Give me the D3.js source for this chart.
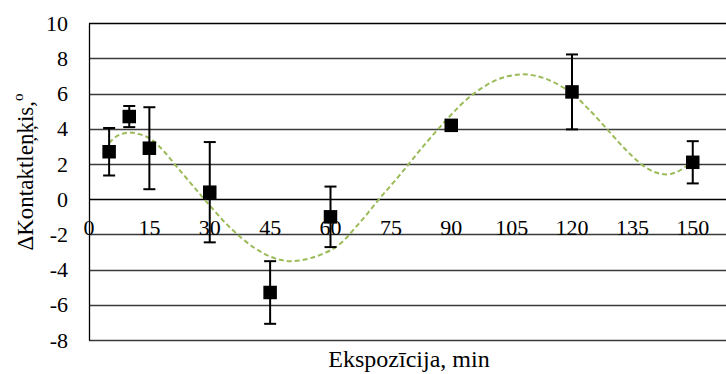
<!DOCTYPE html>
<html>
<head>
<meta charset="utf-8">
<script src="https://cdn.jsdelivr.net/npm/d3@7/dist/d3.min.js"></script>
<style>
  html, body { margin: 0; padding: 0; background: #fff; }
  svg { display: block; }
</style>
</head>
<body>
<svg id="chart" width="726" height="374"></svg>
<script>
// Exposure times (min), mean change of contact angle and its spread
const exposure = [5, 10, 15, 30, 45, 60, 90, 120, 150];
const deltaAngle = [2.7, 4.7, 2.9, 0.4, -5.3, -1.0, 4.2, 6.1, 2.1];
const errorHalf = [1.35, 0.6, 2.33, 2.85, 1.78, 1.72, 0.15, 2.13, 1.2];

// Smooth trend curve through the series (x, y pairs)
const trendX = [5, 7, 9.75, 12.5, 15.5, 18.5, 21.8, 25.5, 29.6, 35, 40.8, 45.5, 49.9, 55, 61.5, 67, 72.2, 77.2, 83, 89.2, 93, 97, 102, 107.8, 113.5, 119.8, 124, 128.5, 133, 137.5, 140.5, 143.7, 146.5, 149.1, 150];
const trendY = [3.2, 3.6, 3.79, 3.7, 3.4, 2.75, 1.85, 0.85, -0.25, -1.6, -2.72, -3.3, -3.52, -3.35, -2.69, -1.4, 0.04, 1.37, 3.0, 4.61, 5.5, 6.23, 6.85, 7.1, 6.85, 6.04, 5.15, 4.04, 2.9, 1.94, 1.55, 1.41, 1.6, 1.98, 2.1];

// Axis ticks
const xTicks = [0, 15, 30, 45, 60, 75, 90, 105, 120, 135, 150];
const yTicks = [-8, -6, -4, -2, 0, 2, 4, 6, 8, 10];

const FONT = "'Liberation Serif'";

const svg = d3.select("#chart");
const plotLeft = 89, plotTop = 23.3, plotBottom = 340;
const pxPerMin = 4.025;

const x = d3.scaleLinear().domain([0, 165]).range([plotLeft, plotLeft + 165 * pxPerMin]);
const y = d3.scaleLinear().domain([-8, 10]).range([plotBottom, plotTop]);

// Horizontal gridlines
svg.append("g")
  .selectAll("line")
  .data(yTicks)
  .join("line")
  .attr("x1", plotLeft)
  .attr("x2", 726)
  .attr("y1", d => Math.round(y(d)) + 0.5)
  .attr("y2", d => Math.round(y(d)) + 0.5)
  .attr("stroke", d => d === 10 || d === 0 ? "#000" : "#3a3a3a")
  .attr("stroke-width", 1.3);

// Vertical axis line
svg.append("line")
  .attr("x1", plotLeft + 0.5).attr("x2", plotLeft + 0.5)
  .attr("y1", Math.round(y(10)) + 0.5).attr("y2", Math.round(y(-8)) + 0.5)
  .attr("stroke", "#000").attr("stroke-width", 1.3);

// Y tick labels
svg.append("g")
  .selectAll("text")
  .data(yTicks)
  .join("text")
  .style("font-family", FONT)
  .attr("x", 68)
  .attr("y", d => y(d) + 7.5)
  .attr("text-anchor", "end")
  .attr("font-size", 22)
  .text(d => d);

// X tick labels sit below the zero line
svg.append("g")
  .selectAll("text")
  .data(xTicks)
  .join("text")
  .style("font-family", FONT)
  .attr("x", d => x(d))
  .attr("y", y(0) + 36)
  .attr("text-anchor", "middle")
  .attr("font-size", 22)
  .text(d => d);

// Trend curve
const line = d3.line()
  .x((d, i) => x(trendX[i]))
  .y(d => y(d))
  .curve(d3.curveCatmullRom.alpha(0.5));

svg.append("path")
  .datum(trendY)
  .attr("d", line)
  .attr("fill", "none")
  .attr("stroke", "#9BBB59")
  .attr("stroke-width", 2)
  .attr("stroke-dasharray", "5,3");

// Error bars
const eb = svg.append("g").attr("stroke", "#000").attr("stroke-width", 2);
exposure.forEach((t, i) => {
  const cx = x(t);
  const y1 = y(deltaAngle[i] + errorHalf[i]);
  const y2 = y(deltaAngle[i] - errorHalf[i]);
  eb.append("line").attr("x1", cx).attr("x2", cx).attr("y1", y1).attr("y2", y2);
  eb.append("line").attr("x1", cx - 6).attr("x2", cx + 6).attr("y1", y1).attr("y2", y1);
  eb.append("line").attr("x1", cx - 6).attr("x2", cx + 6).attr("y1", y2).attr("y2", y2);
});

// Square markers
const ms = 13.5;
svg.append("g")
  .selectAll("rect")
  .data(exposure)
  .join("rect")
  .attr("x", d => x(d) - ms / 2)
  .attr("y", (d, i) => y(deltaAngle[i]) - ms / 2)
  .attr("width", ms)
  .attr("height", ms)
  .attr("fill", "#000");

// Axis titles
svg.append("text")
  .style("font-family", FONT)
  .attr("x", 409)
  .attr("y", 367)
  .attr("text-anchor", "middle")
  .attr("font-size", 24)
  .text("Ekspozīcija, min");

const yTitle = svg.append("text")
  .style("font-family", FONT)
  .attr("transform", "translate(33,172) rotate(-90)")
  .attr("text-anchor", "middle")
  .attr("font-size", 23);
yTitle.append("tspan").text("ΔKontaktleņķis,");
yTitle.append("tspan").attr("font-size", 15).attr("dy", -10).text("o");
</script>
</body>
</html>
